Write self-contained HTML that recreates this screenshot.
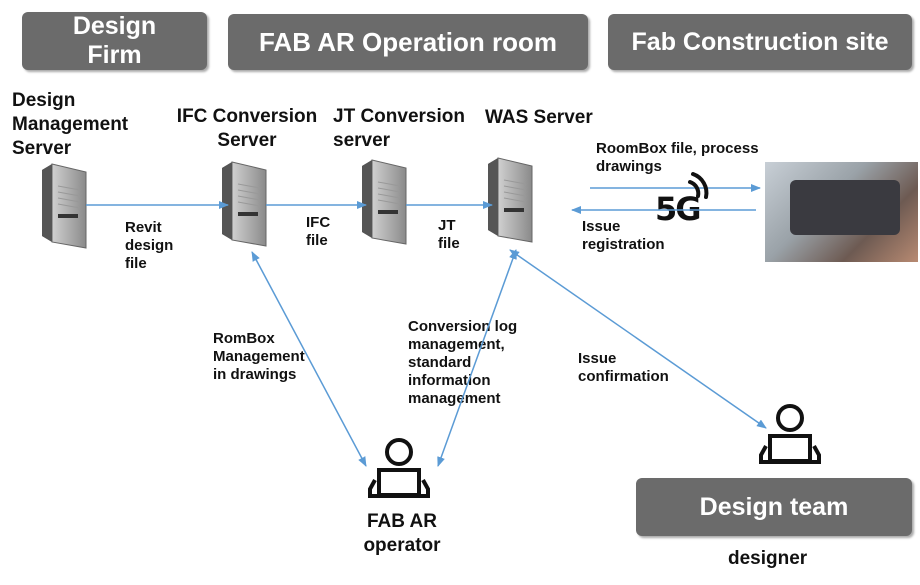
<!DOCTYPE html>
<html><head><meta charset="utf-8"><style>
body{margin:0;background:#fff;font-family:"Liberation Sans",sans-serif;}
#c{position:relative;width:920px;height:585px;overflow:hidden;}
.h{position:absolute;background:#6b6b6b;border-radius:6px;color:#fff;font-weight:bold;font-size:25px;text-align:center;display:flex;align-items:center;justify-content:center;line-height:29px;box-shadow:2px 2px 2px #aaa;}
.t{position:absolute;font-weight:bold;color:#111;}
.l{font-size:15px;line-height:18px;}
.n{font-size:19px;line-height:24px;}
</style></head><body><div id="c">
<div class="h" style="left:22px;top:12px;width:185px;height:58px;">Design<br>Firm</div>
<div class="h" style="left:228px;top:14px;width:360px;height:56px;font-size:26px;">FAB AR Operation room</div>
<div class="h" style="left:608px;top:14px;width:304px;height:56px;">Fab Construction site</div>
<div class="h" style="left:636px;top:478px;width:276px;height:58px;">Design team</div>

<div class="t n" style="left:12px;top:89px;">Design<br>Management<br>Server</div>
<div class="t n" style="left:172px;top:105px;text-align:center;width:150px;">IFC Conversion<br>Server</div>
<div class="t n" style="left:333px;top:105px;">JT Conversion<br>server</div>
<div class="t n" style="left:485px;top:106px;">WAS Server</div>
<div class="t l" style="left:125px;top:219px;">Revit<br>design<br>file</div>
<div class="t l" style="left:306px;top:214px;">IFC<br>file</div>
<div class="t l" style="left:438px;top:217px;">JT<br>file</div>
<div class="t l" style="left:596px;top:140px;">RoomBox file, process<br>drawings</div>
<div class="t l" style="left:582px;top:218px;">Issue<br>registration</div>
<div class="t l" style="left:213px;top:330px;">RomBox<br>Management<br>in drawings</div>
<div class="t l" style="left:408px;top:318px;">Conversion log<br>management,<br>standard<br>information<br>management</div>
<div class="t l" style="left:578px;top:350px;">Issue<br>confirmation</div>
<div class="t n" style="left:356px;top:510px;text-align:center;width:92px;">FAB AR<br>operator</div>
<div class="t n" style="left:728px;top:547px;">designer</div>
<div class="t" style="left:655px;top:190px;font-size:32px;font-family:'DejaVu Sans',sans-serif;letter-spacing:-2px;">5G</div>

<div style="position:absolute;left:765px;top:162px;width:153px;height:100px;background:linear-gradient(135deg,#c8cfd6,#9aa2a8 40%,#6d5a52 70%,#b88a72);"></div>
<div style="position:absolute;left:790px;top:180px;width:110px;height:55px;background:#3a3a40;border-radius:6px;"></div>

<svg width="920" height="585" style="position:absolute;left:0;top:0">
<defs>
<marker id="a" markerWidth="10" markerHeight="8" refX="9" refY="4" orient="auto-start-reverse" markerUnits="userSpaceOnUse"><path d="M0,0L10,4L0,8z" fill="#5b9bd5"/></marker>
<linearGradient id="g" x1="0" x2="1"><stop offset="0" stop-color="#d0d0d0"/><stop offset="1" stop-color="#8a8a8a"/></linearGradient>
<g id="s"><path d="M0,6 L10,0 L44,8 L44,84 L10,78 L0,72z" fill="#777"/><path d="M10,0 L44,8 L44,84 L10,78z" fill="url(#g)" stroke="#666"/><path d="M0,6 L10,0 L10,78 L0,72z" fill="#555"/>
<g stroke="#999"><line x1="16" y1="22" x2="38" y2="26"/><line x1="16" y1="28" x2="38" y2="32"/><line x1="16" y1="34" x2="38" y2="38"/><line x1="16" y1="40" x2="38" y2="44"/></g><rect x="16" y="50" width="20" height="4" fill="#333"/></g>
<g id="p" fill="none" stroke="#111" stroke-width="4"><circle cx="30" cy="14" r="12"/><rect x="10" y="32" width="40" height="25"/><path d="M6,42 L1,51 L1,58 L59,58 L59,51 L54,42"/></g>
</defs>
<use href="#s" x="42" y="164"/><use href="#s" x="222" y="162"/><use href="#s" x="362" y="160"/><use href="#s" x="488" y="158"/>
<g stroke="#5b9bd5" stroke-width="1.5" fill="none">
<line x1="86" y1="205" x2="228" y2="205" marker-end="url(#a)"/>
<line x1="266" y1="205" x2="366" y2="205" marker-end="url(#a)"/>
<line x1="406" y1="205" x2="492" y2="205" marker-end="url(#a)"/>
<line x1="590" y1="188" x2="760" y2="188" marker-end="url(#a)"/>
<line x1="756" y1="210" x2="572" y2="210" marker-end="url(#a)"/>
<line x1="252" y1="252" x2="366" y2="466" marker-start="url(#a)" marker-end="url(#a)"/>
<line x1="516" y1="250" x2="438" y2="466" marker-start="url(#a)" marker-end="url(#a)"/>
<line x1="510" y1="250" x2="766" y2="428" marker-start="url(#a)" marker-end="url(#a)"/>
</g>
<g fill="none" stroke="#111" stroke-width="4" stroke-linecap="round"><path d="M690,182 a12,12 0 0 1 8,14"/><path d="M693,174 a20,20 0 0 1 13,23"/></g>
<use href="#p" x="369" y="438"/><use href="#p" x="760" y="404"/>
</svg>
</div></body></html>
